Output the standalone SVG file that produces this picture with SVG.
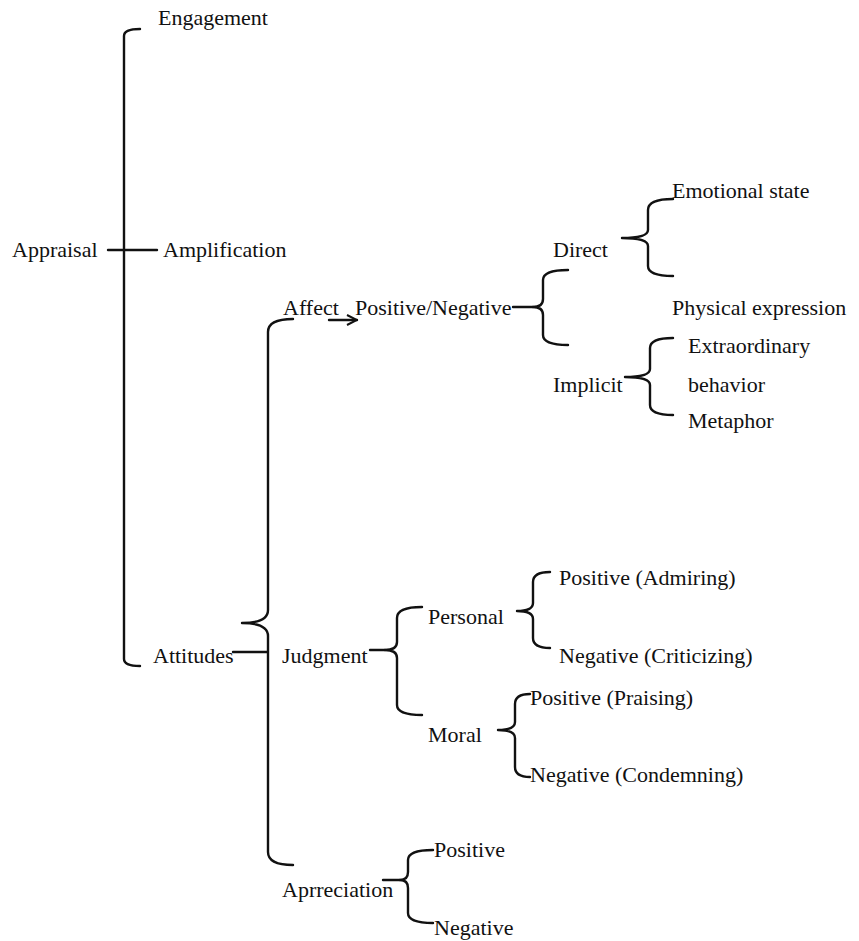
<svg xmlns="http://www.w3.org/2000/svg" width="859" height="941" viewBox="0 0 859 941">
<style>
.c{fill:none;stroke:#111;stroke-width:2.4;stroke-linecap:round;stroke-linejoin:round}
</style>
<defs>
<marker id="arr" viewBox="0 0 12 12" refX="11" refY="6" markerWidth="12" markerHeight="12" markerUnits="userSpaceOnUse" orient="auto">
<path d="M1,1 L11,6 L1,11" fill="none" stroke="#111" stroke-width="2"/>
</marker>
</defs>
<rect width="859" height="941" fill="#fff"/>
<g id="connectors">
<path class="c" d="M140,29 Q124,29 124,36 L124,659 Q124,666 140,666"/>
<path class="c" d="M108,250 L157,250"/>
<path class="c" d="M233,652 L267,652"/>
<path class="c" d="M293,319 Q268,319 268,332 L268,610 Q268,623 242,623 Q268,623 268,636 L268,852 Q268,865 293,865"/>
<path class="c" d="M329,320 L357,320" marker-end="url(#arr)"/>
<path class="c" d="M513,307 L533,307"/>
<path class="c" d="M568,270 Q543,270 543,280 L543,299 Q543,307 533,307 Q543,307 543,315 L543,335 Q543,345 568,345"/>
<path class="c" d="M673,199 Q648,199 648,210 L648,230 Q648,238 622,238 Q648,238 648,246 L648,266 Q648,276 673,276"/>
<path class="c" d="M673,338 Q650,338 650,348 L650,369 Q650,377 625,377 Q650,377 650,385 L650,405 Q650,415 673,415"/>
<path class="c" d="M370,650 L385,650"/>
<path class="c" d="M422,607 Q397,607 397,618 L397,642 Q397,650 385,650 Q397,650 397,658 L397,705 Q397,715 422,715"/>
<path class="c" d="M550,572 Q533,572 533,582 L533,603 Q533,611 517,611 Q533,611 533,619 L533,638 Q533,648 550,648"/>
<path class="c" d="M530,694 Q515,694 515,704 L515,722 Q515,730 498,730 Q515,730 515,738 L515,767 Q515,777 530,777"/>
<path class="c" d="M383,880 L400,880"/>
<path class="c" d="M433,850 Q408,850 408,860 L408,872 Q408,880 400,880 Q408,880 408,888 L408,913 Q408,923 433,923"/>
</g>
<g font-family="'Liberation Serif', 'DejaVu Serif', serif" font-size="22" fill="#111">
<g id="n-engagement"><text x="158" y="25">Engagement</text></g>
<g id="n-appraisal"><text x="12" y="257">Appraisal</text></g>
<g id="n-amplification"><text x="163" y="257">Amplification</text></g>
<g id="n-attitudes"><text x="153" y="663">Attitudes</text></g>
<g id="n-affect"><text x="283" y="315">Affect</text></g>
<g id="n-posneg"><text x="355" y="315">Positive/Negative</text></g>
<g id="n-direct"><text x="553" y="257">Direct</text></g>
<g id="n-emotional"><text x="672" y="198">Emotional state</text></g>
<g id="n-physical"><text x="672" y="315">Physical expression</text></g>
<g id="n-implicit"><text x="553" y="392">Implicit</text></g>
<g id="n-extraordinary"><text x="688" y="353">Extraordinary</text><text x="688" y="392">behavior</text></g>
<g id="n-metaphor"><text x="688" y="428">Metaphor</text></g>
<g id="n-judgment"><text x="282" y="663">Judgment</text></g>
<g id="n-personal"><text x="428" y="624">Personal</text></g>
<g id="n-pos-admiring"><text x="559" y="585">Positive (Admiring)</text></g>
<g id="n-neg-criticizing"><text x="559" y="663">Negative (Criticizing)</text></g>
<g id="n-moral"><text x="428" y="742">Moral</text></g>
<g id="n-pos-praising"><text x="530" y="705">Positive (Praising)</text></g>
<g id="n-neg-condemning"><text x="530" y="782">Negative (Condemning)</text></g>
<g id="n-appreciation"><text x="282" y="897">Aprreciation</text></g>
<g id="n-positive"><text x="434" y="857">Positive</text></g>
<g id="n-negative"><text x="434" y="935">Negative</text></g>
</g>
</svg>
